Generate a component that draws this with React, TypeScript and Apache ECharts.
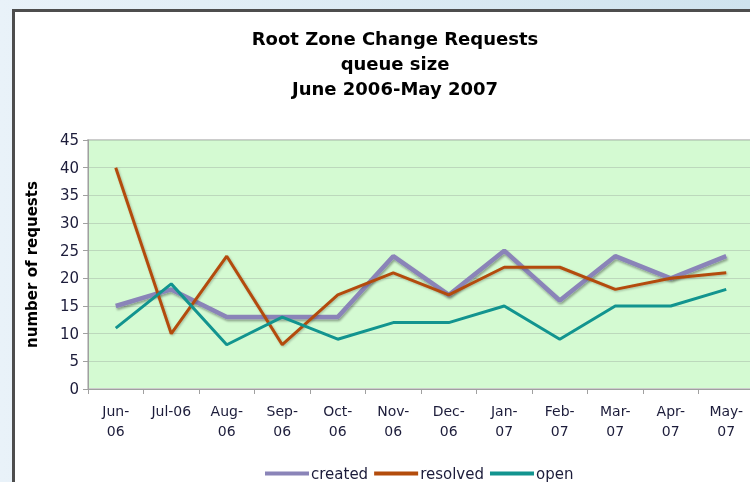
import React, { useEffect, useRef } from "react";
import * as echarts from "echarts";

const categories = ["Jun-\n06", "Jul-06", "Aug-\n06", "Sep-\n06", "Oct-\n06", "Nov-\n06", "Dec-\n06", "Jan-\n07", "Feb-\n07", "Mar-\n07", "Apr-\n07", "May-\n07"];
const created = [15, 18, 13, 13, 13, 24, 17, 25, 16, 24, 20, 24];
const resolved = [40, 10, 24, 8, 17, 21, 17, 22, 22, 18, 20, 21];
const open = [11, 19, 8, 13, 9, 12, 12, 15, 9, 15, 15, 18];
const yTicks = { min: 0, max: 45, interval: 5 };
const titleText = "Root Zone Change Requests\nqueue size\nJune 2006-May 2007";

const FONT = "DejaVu Sans";
const LABEL = "#1c1c3a";

export default function App() {
  const ref = useRef<HTMLDivElement>(null);
  useEffect(() => {
    if (!ref.current) return;
    const chart = echarts.init(ref.current, null, { renderer: "svg" });
    chart.setOption({
      animation: false,
      backgroundColor: "transparent",
      graphic: [
        {
          type: "rect",
          z: -10,
          silent: true,
          shape: { x: 0, y: 0, width: 750, height: 482 },
          style: {
            fill: new echarts.graphic.LinearGradient(0, 0, 1, 0, [
              { offset: 0, color: "#e9f2f9" },
              { offset: 1, color: "#cfe3ee" },
            ]),
          },
        },
        {
          type: "rect",
          z: -9,
          silent: true,
          shape: { x: 13.5, y: 10.5, width: 760, height: 490 },
          style: { fill: "#ffffff", stroke: "#4d4d4d", lineWidth: 3 },
        },
      ],
      title: {
        text: titleText,
        left: 390,
        top: 21,
        textAlign: "center",
        textStyle: {
          fontFamily: FONT,
          fontSize: 18,
          fontWeight: "bold",
          color: "#000",
          lineHeight: 25,
        },
      },
      legend: {
        left: 260,
        top: 461,
        icon: "rect",
        itemWidth: 44,
        itemHeight: 4,
        itemGap: 6,
        textStyle: { fontFamily: FONT, fontSize: 15, color: LABEL, padding: [0, 0, 0, -3] },
        data: ["created", "resolved", "open"],
      },
      grid: {
        left: 88,
        top: 140,
        width: 666,
        height: 249,
        outerBoundsMode: "none",
        containLabel: false,
        show: true,
        backgroundColor: "#d4fad2",
        borderColor: "#cccccc",
        borderWidth: 2,
      },
      xAxis: {
        type: "category",
        data: categories,
        boundaryGap: true,
        axisLine: { show: true, lineStyle: { color: "#a0a0a0", width: 1 } },
        axisTick: { show: true, alignWithLabel: false, length: 5, lineStyle: { color: "#a0a0a0" } },
        axisLabel: {
          interval: 0,
          margin: 12,
          fontFamily: FONT,
          fontSize: 14,
          color: LABEL,
          lineHeight: 20,
        },
        splitLine: { show: false },
      },
      yAxis: {
        type: "value",
        min: yTicks.min,
        max: yTicks.max,
        interval: yTicks.interval,
        name: "number of requests",
        nameLocation: "middle",
        nameGap: 49,
        nameTextStyle: { fontFamily: FONT, fontSize: 15, fontWeight: "bold", color: "#000" },
        axisLine: { show: true, lineStyle: { color: "#a0a0a0", width: 1 } },
        axisTick: { show: true, length: 5, lineStyle: { color: "#a0a0a0" } },
        axisLabel: { margin: 9, fontFamily: FONT, fontSize: 15, color: LABEL },
        splitLine: { show: true, lineStyle: { color: "#bcd8bc", width: 1 } },
      },
      series: [
        {
          name: "created",
          type: "line",
          data: created,
          showSymbol: false,
          symbol: "none",
          color: "#8a84b8",
          lineStyle: {
            color: "#8a84b8",
            width: 4.5,
            shadowColor: "rgba(0,0,0,0.35)",
            shadowBlur: 2,
            shadowOffsetX: 1,
            shadowOffsetY: 2,
          },
          z: 2,
        },
        {
          name: "resolved",
          type: "line",
          data: resolved,
          showSymbol: false,
          symbol: "none",
          color: "#b34c0c",
          lineStyle: {
            color: "#b34c0c",
            width: 3,
            shadowColor: "rgba(0,0,0,0.25)",
            shadowBlur: 2,
            shadowOffsetX: 1,
            shadowOffsetY: 1,
          },
          z: 3,
        },
        {
          name: "open",
          type: "line",
          data: open,
          showSymbol: false,
          symbol: "none",
          color: "#12948f",
          lineStyle: { color: "#12948f", width: 3 },
          z: 4,
        },
      ],
    });
    return () => chart.dispose();
  }, []);
  return (
    <div
      ref={ref}
      style={{ position: "fixed", left: 0, top: 0, width: 750, height: 482 }}
    />
  );
}
